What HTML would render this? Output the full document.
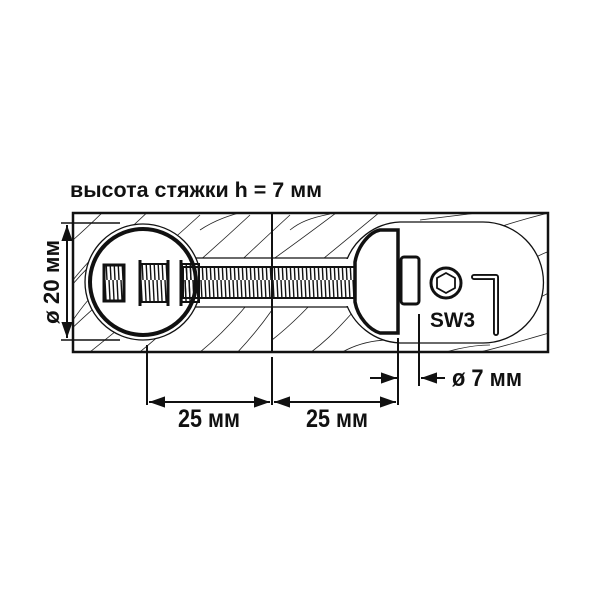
<!DOCTYPE html>
<html><head><style>
html,body{margin:0;padding:0;background:#fff;width:600px;height:600px;overflow:hidden}
svg{display:block}
text{font-family:"Liberation Sans",sans-serif;font-weight:bold;fill:#111}
</style></head><body>
<svg width="600" height="600" viewBox="0 0 600 600" xmlns="http://www.w3.org/2000/svg">
<defs>
<clipPath id="box"><rect x="73" y="213" width="475" height="139"/></clipPath>
<pattern id="thr" width="4" height="40" patternUnits="userSpaceOnUse"><line x1="1" y1="0" x2="3" y2="40" stroke="#111" stroke-width="1.4"/></pattern>
<marker id="ar" viewBox="0 0 10 10" refX="10" refY="5" markerWidth="8" markerHeight="8" orient="auto-start-reverse"><path d="M0,1.5 L10,5 L0,8.5z" fill="#111"/></marker>
</defs>
<text x="70" y="197" font-size="21" textLength="252" lengthAdjust="spacingAndGlyphs">высота стяжки h = 7 мм</text>
<!-- wood grain -->
<g clip-path="url(#box)" stroke="#222" stroke-width="0.8" fill="none">
<path d="M60,300 C90,260 120,240 160,200"/><path d="M60,340 C100,300 140,270 200,215"/>
<path d="M80,360 C130,320 180,280 250,215"/><path d="M130,360 C180,320 230,270 290,215"/>
<path d="M190,360 C230,330 260,290 272,270"/><path d="M230,360 C250,340 265,320 272,310"/>
<path d="M272,260 C300,240 320,225 340,210"/><path d="M272,300 C310,270 340,245 380,212"/>
<path d="M272,340 C310,310 330,280 345,270"/><path d="M300,360 C330,340 345,320 355,310"/>
<path d="M330,360 C350,345 370,340 390,340"/><path d="M420,220 C460,215 500,210 548,205"/>
<path d="M490,230 C520,220 540,215 560,210"/><path d="M530,260 C540,255 550,250 560,248"/>
<path d="M535,300 C545,295 552,290 560,290"/><path d="M480,352 C510,345 530,338 560,330"/>
<path d="M420,360 C450,350 470,345 490,345"/><path d="M73,240 C90,225 100,215 110,205"/>
<path d="M73,280 C85,265 95,255 100,250"/><path d="M200,230 C215,220 230,215 250,210"/>
<path d="M290,230 C300,222 310,218 330,214"/><path d="M73,320 C80,310 88,300 92,296"/>
</g>
<!-- holes -->
<path d="M190,258 L352,258 L352,307 L190,307Z" fill="#fff" stroke="#111" stroke-width="1.2"/>
<circle cx="143" cy="282" r="58" fill="#fff" stroke="#111" stroke-width="1.3"/>
<rect x="200" y="259" width="160" height="47" fill="#fff"/>
<path d="M400,222 L483,222 A60,60 0 0 1 483,343 L400,343 A60,60 0 0 1 345,300 L345,265 A60,60 0 0 1 400,222Z" fill="#fff" stroke="#111" stroke-width="1.3"/>
<rect x="340" y="259" width="15" height="47" fill="#fff"/>
<circle cx="143" cy="282" r="53" fill="none" stroke="#111" stroke-width="4"/>
<!-- rod -->
<rect x="183" y="267" width="175" height="31" fill="url(#thr)" stroke="#111" stroke-width="2"/>
<!-- barrel pieces -->
<rect x="104" y="265" width="20" height="36" fill="url(#thr)" stroke="#111" stroke-width="3"/>
<line x1="140" y1="260" x2="140" y2="306" stroke="#111" stroke-width="3"/>
<line x1="168" y1="260" x2="168" y2="306" stroke="#111" stroke-width="3"/>
<rect x="140" y="264" width="28" height="38" fill="url(#thr)" stroke="#111" stroke-width="2"/>
<line x1="181" y1="260" x2="181" y2="306" stroke="#111" stroke-width="3"/>
<rect x="181" y="264" width="18" height="38" fill="url(#thr)" stroke="#111" stroke-width="2"/>
<!-- head -->
<path d="M398,230 L380,230 C370,232 358,245 355,262 L355,302 C358,318 370,330 380,333 L398,333Z" fill="#fff" stroke="#111" stroke-width="3.5"/>
<rect x="401" y="257" width="18" height="47" rx="3" fill="#fff" stroke="#111" stroke-width="3"/>
<!-- box -->
<rect x="73" y="213" width="475" height="139" fill="none" stroke="#111" stroke-width="2.5"/>
<line x1="272" y1="213" x2="272" y2="352" stroke="#111" stroke-width="2"/>
<!-- hex + key -->
<circle cx="446" cy="283" r="15" fill="none" stroke="#111" stroke-width="3"/>
<polygon points="446,273 455,278 455,288 446,293 437,288 437,278" fill="none" stroke="#111" stroke-width="1.8"/>
<path d="M474,277 L496,277 L496,333" fill="none" stroke="#111" stroke-width="6" stroke-linejoin="round" stroke-linecap="round"/>
<path d="M474,277 L496,277 L496,333" fill="none" stroke="#fff" stroke-width="2.2" stroke-linejoin="round" stroke-linecap="round"/>
<text x="430" y="327" font-size="21" textLength="45" lengthAdjust="spacingAndGlyphs">SW3</text>
<!-- dims -->
<g stroke="#111" stroke-width="2" fill="none">
<line x1="61" y1="223" x2="120" y2="223" stroke-width="1.5"/><line x1="61" y1="340" x2="120" y2="340" stroke-width="1.5"/>
<line x1="67" y1="225" x2="67" y2="338" marker-start="url(#ar)" marker-end="url(#ar)"/>
<line x1="147" y1="345" x2="147" y2="405"/><line x1="272" y1="357" x2="272" y2="405"/><line x1="398" y1="338" x2="398" y2="405"/>
<line x1="149" y1="402" x2="270" y2="402" marker-start="url(#ar)" marker-end="url(#ar)"/>
<line x1="274" y1="402" x2="396" y2="402" marker-start="url(#ar)" marker-end="url(#ar)"/>
<line x1="419" y1="314" x2="419" y2="386"/>
<line x1="370" y1="378" x2="397" y2="378" marker-end="url(#ar)"/>
<line x1="445" y1="378" x2="421" y2="378" marker-end="url(#ar)"/>
</g>
<text transform="translate(59,282) rotate(-90)" text-anchor="middle" font-size="22" textLength="84" lengthAdjust="spacingAndGlyphs">ø 20 мм</text>
<text x="178" y="427" font-size="25" textLength="62" lengthAdjust="spacingAndGlyphs">25 мм</text>
<text x="306" y="427" font-size="25" textLength="62" lengthAdjust="spacingAndGlyphs">25 мм</text>
<text x="452" y="386" font-size="24" textLength="70" lengthAdjust="spacingAndGlyphs">ø 7 мм</text>
</svg>
</body></html>
